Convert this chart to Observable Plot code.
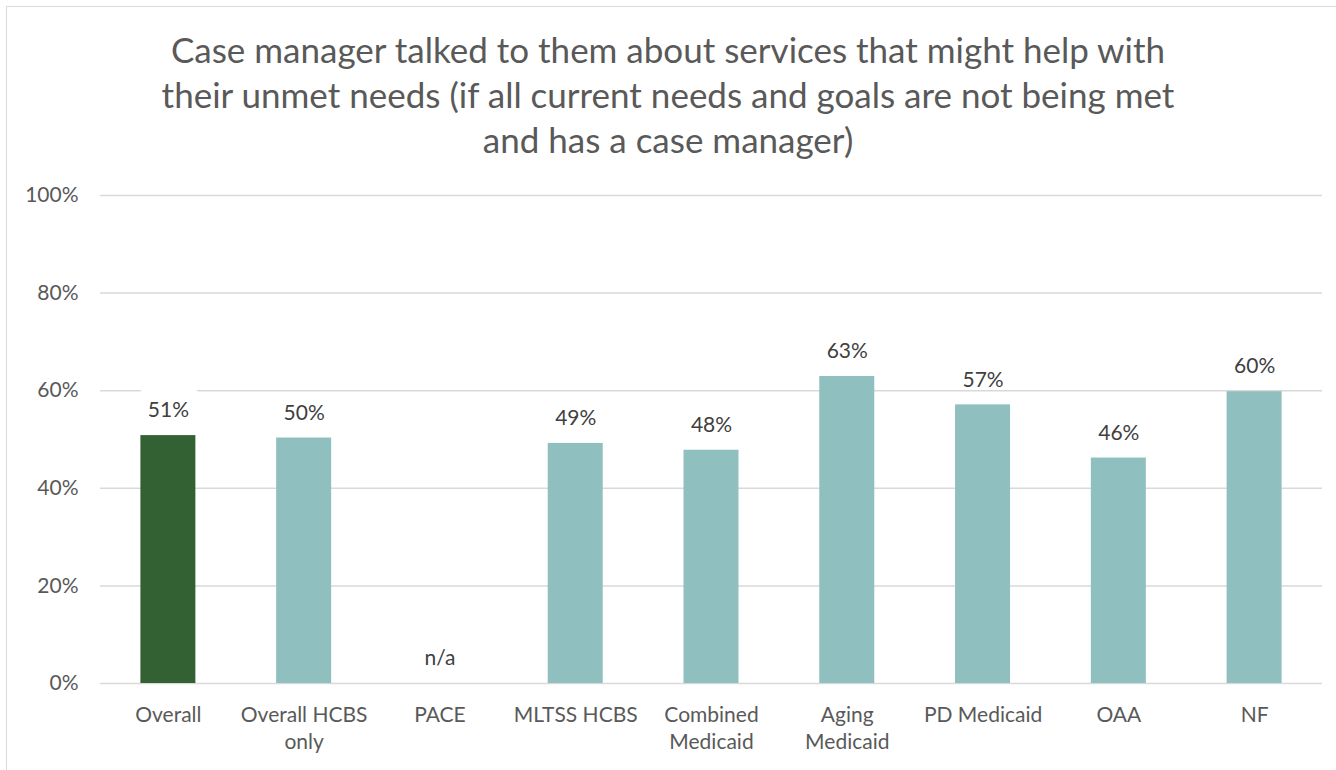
<!DOCTYPE html>
<html>
<head>
<meta charset="utf-8">
<script src="https://cdn.jsdelivr.net/npm/d3@7"></script>
<script src="https://cdn.jsdelivr.net/npm/@observablehq/plot@0.6"></script>
<style>
  html, body { margin: 0; padding: 0; background: #fff; }
  body { width: 1336px; height: 770px; overflow: hidden; position: relative; font-family: Lato, "Open Sans", sans-serif; }
  #frame { position: absolute; left: 6px; top: 6px; width: 1340px; height: 780px; border: 1.5px solid #d9d9d9; box-sizing: border-box; pointer-events: none; z-index: 2; }
  #title { height: 175px; box-sizing: border-box; padding-top: 27px; text-align: center; color: #595959; font-size: 35px; line-height: 45px; white-space: nowrap; }
  #chart svg { display: block; }
</style>
</head>
<body>
<div id="frame"></div>
<div id="title">Case manager talked to them about services that might help with<br>their unmet needs (if all current needs and goals are not being met<br>and has a case manager)</div>
<div id="chart"></div>
<script>
const categories = ["Overall", "Overall HCBS only", "PACE", "MLTSS HCBS", "Combined Medicaid", "Aging Medicaid", "PD Medicaid", "OAA", "NF"];
const tickLabels = ["Overall", "Overall HCBS\nonly", "PACE", "MLTSS HCBS", "Combined\nMedicaid", "Aging\nMedicaid", "PD Medicaid", "OAA", "NF"];
const values = [0.508, 0.503, null, 0.492, 0.478, 0.629, 0.571, 0.462, 0.598];
const valueLabels = ["51%", "50%", "n/a", "49%", "48%", "63%", "57%", "46%", "60%"];
const groups = ["overall", "segment", "segment", "segment", "segment", "segment", "segment", "segment", "segment"];
const yTicks = [0, 0.2, 0.4, 0.6, 0.8, 1.0];

const data = categories.map((c, i) => ({
  category: c, value: values[i], label: valueLabels[i], group: groups[i]
}));
const tickMap = new Map(categories.map((c, i) => [c, tickLabels[i]]));

const chart = Plot.plot({
  width: 1336,
  height: 595,
  marginTop: 20,
  marginBottom: 87,
  marginLeft: 100,
  marginRight: 14,
  style: { fontFamily: "Lato, 'Open Sans', sans-serif", fontSize: "21px", color: "#595959", background: "white" },
  x: { domain: categories, paddingInner: 0.595, paddingOuter: 0.2975, round: false, label: null },
  y: { domain: [0, 1], label: null },
  color: { domain: ["overall", "segment"], range: ["#336133", "#8fbfbe"] },
  marks: [
    Plot.ruleY(yTicks, { stroke: "#d9d9d9", strokeWidth: 1.5 }),
    Plot.barY(data.filter(d => d.value != null), { x: "category", y: "value", fill: "group" }),
    Plot.text(data.filter(d => d.group === "overall"), { x: "category", y: d => d.value ?? 0, text: "label", dy: -25, fill: "white", stroke: "white", strokeWidth: 30, strokeLinejoin: "round", fontSize: 21 }),
    Plot.text(data, { x: "category", y: d => d.value ?? 0, text: "label", dy: -25, fill: "#404040", fontSize: 21 }),
    Plot.axisX({ tickSize: 0, tickPadding: 19, tickFormat: d => tickMap.get(d), fontSize: 21, lineHeight: 1.3, textAnchor: "middle", lineAnchor: "top", fill: "#595959" }),
    Plot.axisY({ ticks: yTicks, tickSize: 0, tickPadding: 22, tickFormat: d => Math.round(d * 100) + "%", fontSize: 21, fill: "#595959" })
  ]
});
document.getElementById("chart").appendChild(chart);
</script>
</body>
</html>
